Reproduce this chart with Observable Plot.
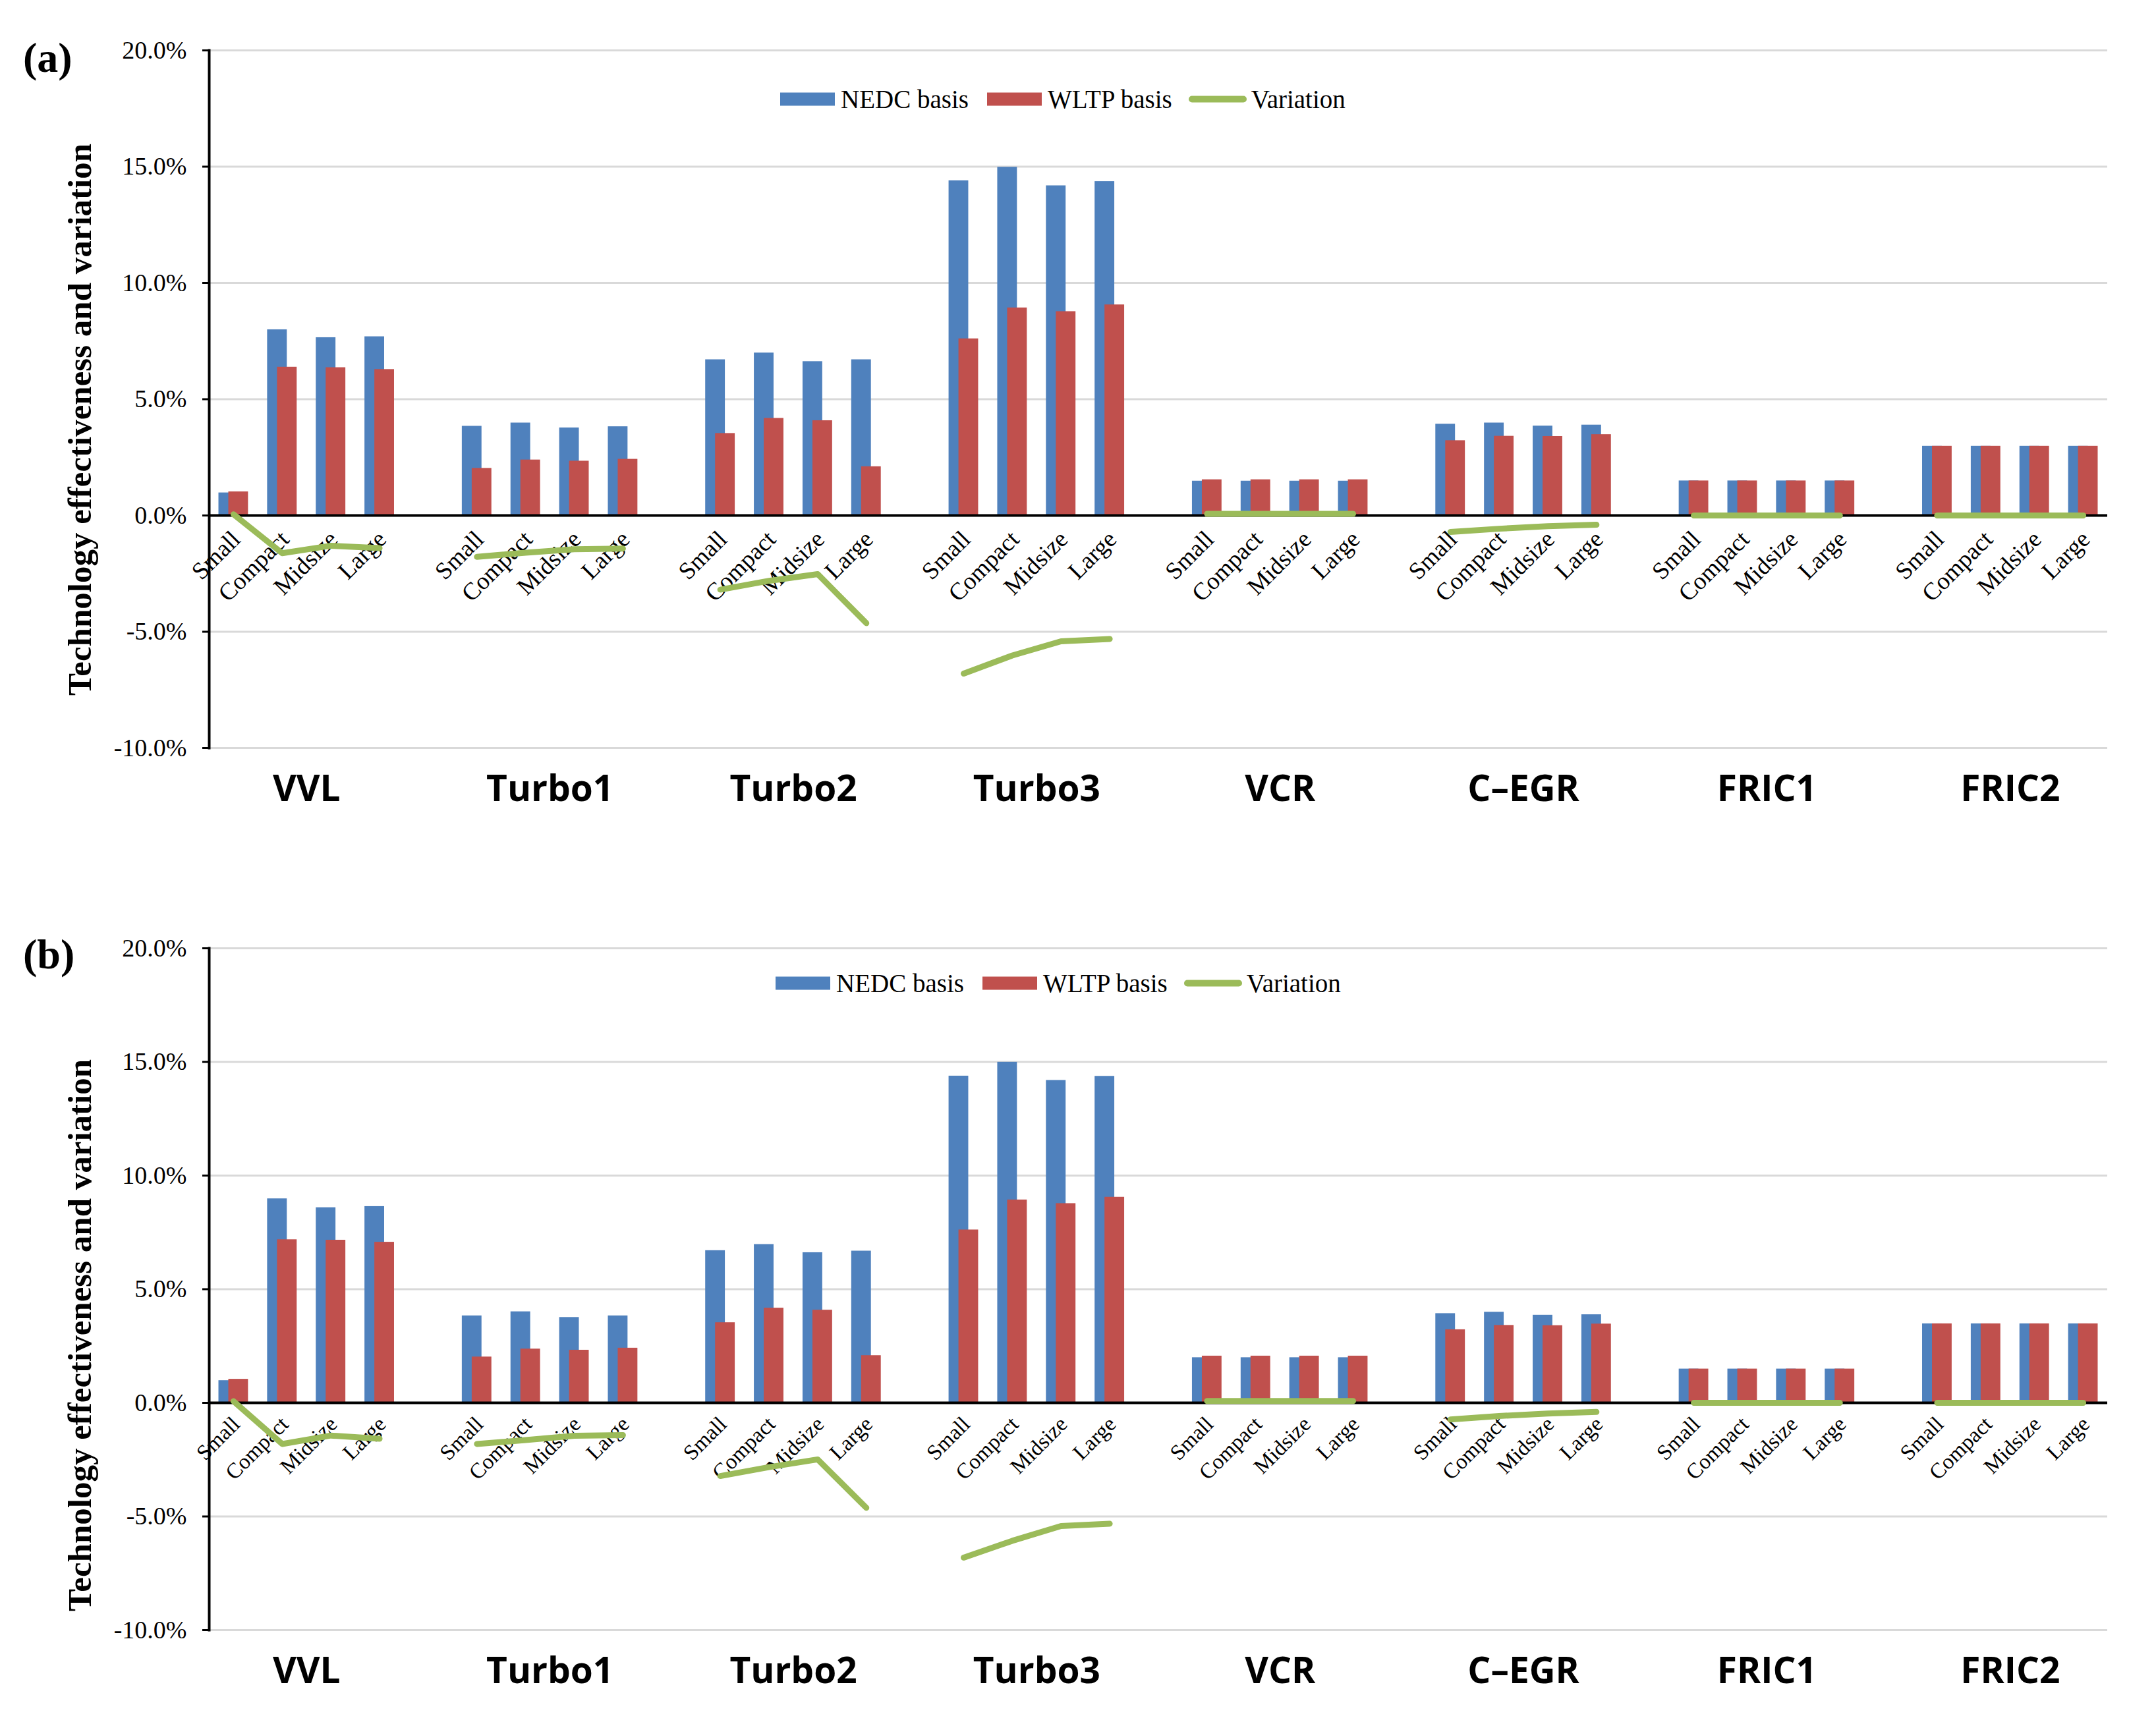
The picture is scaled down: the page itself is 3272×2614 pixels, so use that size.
<!DOCTYPE html>
<html>
<head>
<meta charset="utf-8">
<script src="https://cdn.jsdelivr.net/npm/d3@7"></script>
<script src="https://cdn.jsdelivr.net/npm/@observablehq/plot@0.6"></script>
<style>
  body { margin: 0; background: #fff; }
  #wrap { position: relative; width: 3272px; height: 2614px; background: #fff; font-family: "Liberation Serif", "Times New Roman", serif; color: #000; overflow: hidden; }
  .panel { position: absolute; left: 0; width: 3272px; }
  .legend { position: absolute; display: flex; align-items: center; font-size: 39px; line-height: 1; white-space: nowrap; transform: translateY(-50%); }
  .sw { width: 83px; height: 20px; margin-right: 9px; }
  .ln { width: 88px; height: 10px; border-radius: 5px; background: #9BBB59; margin-right: 7px; }
  .item { display: flex; align-items: center; }
  .ytitle { position: absolute; font-weight: bold; font-size: 51px; white-space: nowrap; transform: translate(-50%, -50%) rotate(-90deg); }
  .plabel { position: absolute; font-weight: bold; font-size: 64px; line-height: 1; }
</style>
</head>
<body>
<div id="wrap"></div>
<script>
// ---- data ----
const technologies = ["VVL", "Turbo1", "Turbo2", "Turbo3", "VCR", "C\u2013EGR", "FRIC1", "FRIC2"];
const sizes = ["Small", "Compact", "Midsize", "Large"];
const yTicks = [-10, -5, 0, 5, 10, 15, 20];
const seriesNames = ["NEDC basis", "WLTP basis", "Variation"];

// Panel (a)
const nedcA = [0.975, 7.99, 7.65, 7.69,  3.84, 3.98, 3.77, 3.82,  6.70, 6.99, 6.62, 6.70,  14.40, 14.98, 14.18, 14.36,
               1.48, 1.48, 1.48, 1.48,  3.93, 3.98, 3.85, 3.89,  1.49, 1.49, 1.49, 1.49,  2.98, 2.98, 2.98, 2.98];
const wltpA = [1.02, 6.38, 6.36, 6.28,  2.03, 2.39, 2.34, 2.42,  3.53, 4.18, 4.08, 2.10,  7.60, 8.93, 8.77, 9.06,
               1.54, 1.54, 1.54, 1.54,  3.22, 3.41, 3.40, 3.48,  1.49, 1.49, 1.49, 1.49,  2.98, 2.98, 2.98, 2.98];
const varA  = [0.05, -1.62, -1.30, -1.40,  -1.78, -1.60, -1.45, -1.42,  -3.19, -2.81, -2.52, -4.63,  -6.80, -6.02, -5.41, -5.31,
               0.07, 0.07, 0.07, 0.07,  -0.71, -0.57, -0.46, -0.40,  0, 0, 0, 0,  0, 0, 0, 0];

// Panel (b)
const nedcB = [0.98, 8.98, 8.59, 8.64,  3.83, 4.01, 3.76, 3.83,  6.70, 6.97, 6.61, 6.68,  14.38, 14.99, 14.19, 14.37,
               1.99, 1.99, 1.99, 1.99,  3.93, 3.99, 3.86, 3.88,  1.49, 1.49, 1.49, 1.49,  3.48, 3.48, 3.48, 3.48];
const wltpB = [1.04, 7.18, 7.16, 7.07,  2.02, 2.37, 2.32, 2.41,  3.53, 4.17, 4.08, 2.08,  7.61, 8.93, 8.77, 9.05,
               2.06, 2.06, 2.06, 2.06,  3.22, 3.41, 3.40, 3.47,  1.49, 1.49, 1.49, 1.49,  3.48, 3.48, 3.48, 3.48];
const varB  = [0.07, -1.81, -1.44, -1.58,  -1.81, -1.64, -1.45, -1.42,  -3.22, -2.83, -2.49, -4.62,  -6.81, -6.07, -5.42, -5.32,
               0.08, 0.08, 0.08, 0.08,  -0.73, -0.58, -0.47, -0.40,  0, 0, 0, 0,  0, 0, 0, 0];

const colors = { nedc: "#4F81BD", wltp: "#C0504D", variation: "#9BBB59" };

// ---- build tables ----
const slots = [];
technologies.forEach((t, i) => {
  if (i > 0) slots.push("gap" + i);
  sizes.forEach(s => slots.push(t + "|" + s));
});

function makeRows(nedc, wltp, vari) {
  const out = [];
  technologies.forEach((t, i) => sizes.forEach((s, j) => {
    const k = i * 4 + j;
    out.push({ tech: t, size: s, key: t + "|" + s, nedc: nedc[k], wltp: wltp[k], variation: vari[k], base: 0 });
  }));
  return out;
}

const wrap = document.getElementById("wrap");

function panel({ rows, top, height, mt, mb, label, legendTop, legendLeft, labelSize, labelDx, labelDy, titleY, labelY }) {
  const chart = Plot.plot({
    width: 3272,
    height,
    marginLeft: 317,
    marginRight: 74,
    marginTop: mt,
    marginBottom: mb,
    style: { fontFamily: "Liberation Serif, Times New Roman, serif", fontSize: "38px", color: "#000", background: "#fff", overflow: "visible" },
    x: { type: "band", domain: slots, padding: 0, axis: null },
    y: { domain: [-10, 20], axis: null },
    marks: [
      Plot.ruleY(yTicks, { stroke: "#D9D9D9", strokeWidth: 3, strokeOpacity: 1 }),
      Plot.barY(rows, { x: "key", y: "nedc", fill: colors.nedc, insetLeft: 14.5, insetRight: 29.5 }),
      Plot.barY(rows, { x: "key", y: "wltp", fill: colors.wltp, insetLeft: 29.5, insetRight: 14.5 }),
      Plot.ruleY([0], { stroke: "#000", strokeWidth: 4 }),
      Plot.frame({ anchor: "left", stroke: "#000", strokeWidth: 4 }),
      Plot.axisY({ ticks: yTicks, tickFormat: d => d.toFixed(1) + "%", tickSize: 10, tickPadding: 24, fontSize: 38, strokeWidth: 3, anchor: "left", fontFamily: "Liberation Serif, Times New Roman, serif" }),
      Plot.text(rows, { x: "key", y: "base", text: "size", rotate: -45, textAnchor: "end", fontSize: labelSize, dx: labelDx, dy: labelDy }),
      Plot.lineY(rows, { x: "key", y: "variation", z: "tech", stroke: colors.variation, strokeWidth: 9, strokeLinecap: "round", strokeLinejoin: "round" }),
      Plot.text(technologies, { x: t => t + "|Compact", text: d => d, frameAnchor: "bottom", lineAnchor: "middle", dx: 37, dy: 63, fontSize: 55, fontWeight: 700, fontFamily: "Open Sans, DejaVu Sans, sans-serif" })
    ]
  });
  const div = document.createElement("div");
  div.className = "panel";
  div.style.top = top + "px";
  div.appendChild(chart);
  wrap.appendChild(div);

  // legend
  const lg = document.createElement("div");
  lg.className = "legend";
  lg.style.left = legendLeft + "px";
  lg.style.top = legendTop + "px";
  lg.innerHTML =
    `<div class="item" style="margin-right:28px"><div class="sw" style="background:${colors.nedc}"></div><span>${seriesNames[0]}</span></div>` +
    `<div class="item" style="margin-right:25px"><div class="sw" style="background:${colors.wltp}"></div><span>${seriesNames[1]}</span></div>` +
    `<div class="item"><div class="ln"></div><span>${seriesNames[2]}</span></div>`;
  wrap.appendChild(lg);

  // y title
  const yt = document.createElement("div");
  yt.className = "ytitle";
  yt.style.left = "121px";
  yt.style.top = titleY + "px";
  yt.textContent = "Technology effectiveness and variation";
  wrap.appendChild(yt);

  // panel label
  const pl = document.createElement("div");
  pl.className = "plabel";
  pl.style.left = "35px";
  pl.style.top = labelY + "px";
  pl.textContent = label;
  wrap.appendChild(pl);
}

panel({ rows: makeRows(nedcA, wltpA, varA), top: 0, height: 1307, mt: 76, mb: 172, label: "(a)",
        legendTop: 150, legendLeft: 1184, labelSize: 37, labelDx: 4, labelDy: 30, titleY: 637, labelY: 56 });
panel({ rows: makeRows(nedcB, wltpB, varB), top: 1307, height: 1307, mt: 132, mb: 140, label: "(b)",
        legendTop: 1492, legendLeft: 1177, labelSize: 33, labelDx: 4, labelDy: 27, titleY: 2027, labelY: 1417 });
</script>
</body>
</html>
